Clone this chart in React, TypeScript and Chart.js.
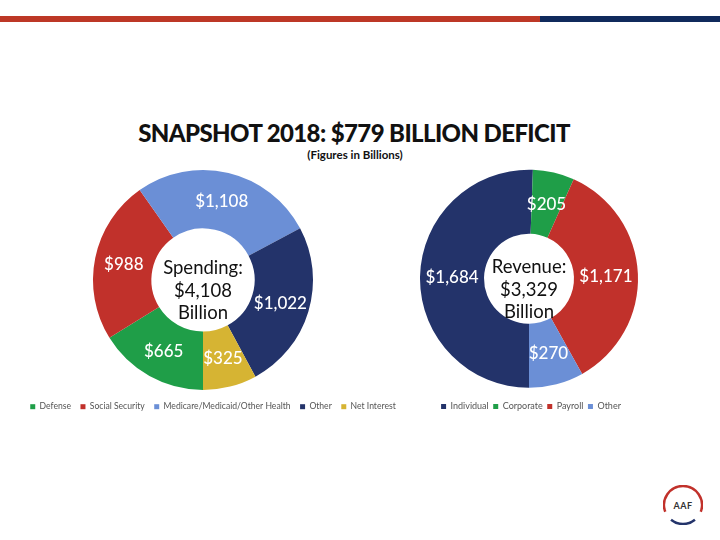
import React, { useEffect, useRef } from "react";
import { Chart, registerables } from "chart.js";

Chart.register(...registerables);

const FONT = "Lato, 'Open Sans', sans-serif";

// Federal spending, FY2018 (billions)
const spendingCategories = [
  "Defense",
  "Social Security",
  "Medicare/Medicaid/Other Health",
  "Other",
  "Net Interest",
];
const spendingValues = [665, 988, 1108, 1022, 325];
const spendingColors = ["#1f9e48", "#c1312b", "#6b8fd6", "#23336a", "#d6b433"];
const spendingCenter = ["Spending:", "$4,108", "Billion"];

// Federal revenue, FY2018 (billions)
const revenueCategories = ["Individual", "Corporate", "Payroll", "Other"];
const revenueValues = [1684, 205, 1171, 270];
const revenueColors = ["#23336a", "#1f9e48", "#c1312b", "#6b8fd6"];
const revenueCenter = ["Revenue:", "$3,329", "Billion"];

const LABEL_SIZE = 17;
const CENTER_SIZE = 18.5;

// White dollar value drawn in the middle of each slice
const sliceLabels = {
  id: "sliceLabels",
  afterDatasetsDraw(chart: any) {
    const ctx = chart.ctx;
    const meta = chart.getDatasetMeta(0);
    const values = chart.data.datasets[0].data as number[];
    ctx.save();
    ctx.fillStyle = "#ffffff";
    ctx.font = `500 ${LABEL_SIZE}px ${FONT}`;
    ctx.textAlign = "center";
    ctx.textBaseline = "alphabetic";
    meta.data.forEach((arc: any, i: number) => {
      const p = arc.tooltipPosition(true);
      ctx.fillText("$" + values[i].toLocaleString("en-US"), p.x, p.y + LABEL_SIZE * 0.36);
    });
    ctx.restore();
  },
};

// Three-line total written inside the hole
const centerText = {
  id: "centerText",
  afterDatasetsDraw(chart: any, _args: any, opts: any) {
    const lines: string[] = opts.lines || [];
    const arc = chart.getDatasetMeta(0).data[0];
    if (!arc) return;
    const ctx = chart.ctx;
    ctx.save();
    ctx.fillStyle = "#111111";
    ctx.font = `${CENTER_SIZE}px ${FONT}`;
    ctx.textAlign = "center";
    ctx.textBaseline = "alphabetic";
    const offsets = [-6, 17, 39];
    lines.forEach((t, i) => ctx.fillText(t, arc.x, arc.y + offsets[i]));
    ctx.restore();
  },
};

// Moves the legend sideways without moving the doughnut
const legendShift = {
  id: "legendShift",
  afterLayout(chart: any, _args: any, opts: any) {
    const lg = chart.legend;
    if (lg && opts.dx) {
      lg.left += opts.dx;
      lg.right += opts.dx;
    }
  },
};

interface DonutSpec {
  labels: string[];
  values: number[];
  colors: string[];
  center: string[];
  outer: number;
  hole: number;
  legendFont: number;
  legendGap: number;
  dx: number;
}

function buildDonut(canvas: HTMLCanvasElement, s: DonutSpec) {
  return new Chart(canvas, {
    type: "doughnut",
    data: {
      labels: s.labels,
      datasets: [
        {
          data: s.values,
          backgroundColor: s.colors,
          borderWidth: 0,
        },
      ],
    },
    options: {
      responsive: false,
      animation: false,
      radius: s.outer,
      cutout: s.hole,
      rotation: 180,
      layout: { padding: 0 },
      plugins: {
        tooltip: { enabled: false },
        legend: {
          position: "bottom",
          labels: {
            boxWidth: 5,
            boxHeight: 5,
            padding: s.legendGap,
            color: "#555555",
            font: { family: FONT, size: s.legendFont },
          },
        },
        centerText: { lines: s.center },
        legendShift: { dx: s.dx },
      } as any,
    } as any,
    plugins: [sliceLabels, centerText, legendShift],
  });
}

export default function App() {
  const spendRef = useRef<HTMLCanvasElement>(null);
  const revRef = useRef<HTMLCanvasElement>(null);

  useEffect(() => {
    Chart.defaults.font.family = FONT;
    const a = buildDonut(spendRef.current!, {
      labels: spendingCategories,
      values: spendingValues,
      colors: spendingColors,
      center: spendingCenter,
      outer: 110,
      hole: 53,
      legendFont: 8.6,
      legendGap: 9.5,
      dx: 10,
    });
    const b = buildDonut(revRef.current!, {
      labels: revenueCategories,
      values: revenueValues,
      colors: revenueColors,
      center: revenueCenter,
      outer: 109,
      hole: 49,
      legendFont: 9,
      legendGap: 4.5,
      dx: 2,
    });
    return () => {
      a.destroy();
      b.destroy();
    };
  }, []);

  return (
    <div
      style={{
        position: "absolute",
        left: 0,
        top: 0,
        width: 720,
        height: 540,
        background: "#ffffff",
        overflow: "hidden",
        fontFamily: FONT,
      }}
    >
      <div style={{ position: "absolute", left: 0, top: 16, width: 540, height: 6, background: "#bd3826" }} />
      <div style={{ position: "absolute", left: 540, top: 16, width: 180, height: 6, background: "#102a5c" }} />

      <div
        style={{
          position: "absolute",
          left: -6,
          top: 121,
          width: 720,
          textAlign: "center",
          fontSize: 24,
          lineHeight: "24px",
          fontWeight: 900,
          letterSpacing: -0.6,
          color: "#111111",
          whiteSpace: "nowrap",
        }}
      >
        SNAPSHOT 2018: $779 BILLION DEFICIT
      </div>
      <div
        style={{
          position: "absolute",
          left: -5,
          top: 149,
          width: 720,
          textAlign: "center",
          fontSize: 11.5,
          lineHeight: "12px",
          fontWeight: 700,
          color: "#111111",
        }}
      >
        (Figures in Billions)
      </div>

      <canvas
        ref={spendRef}
        width={406}
        height={254}
        style={{ position: "absolute", left: 0, top: 167, width: 406, height: 254 }}
      />
      <canvas
        ref={revRef}
        width={246}
        height={261}
        style={{ position: "absolute", left: 406, top: 160, width: 246, height: 261 }}
      />

      <svg
        width={40}
        height={40}
        viewBox="0 0 40 40"
        style={{ position: "absolute", left: 663, top: 485 }}
      >
        <path d="M 2.26 26.81 A 19 19 0 1 1 37.74 26.81" fill="none" stroke="#c1312b" strokeWidth={2.5} />
        <path d="M 8.04 34.77 A 19 19 0 0 0 31.96 34.77" fill="none" stroke="#23336a" strokeWidth={2.5} />
        <text
          x={20}
          y={23.5}
          textAnchor="middle"
          fontSize={9}
          fontWeight={700}
          fill="#333333"
          fontFamily={FONT}
          letterSpacing={0.5}
        >
          AAF
        </text>
      </svg>
    </div>
  );
}
